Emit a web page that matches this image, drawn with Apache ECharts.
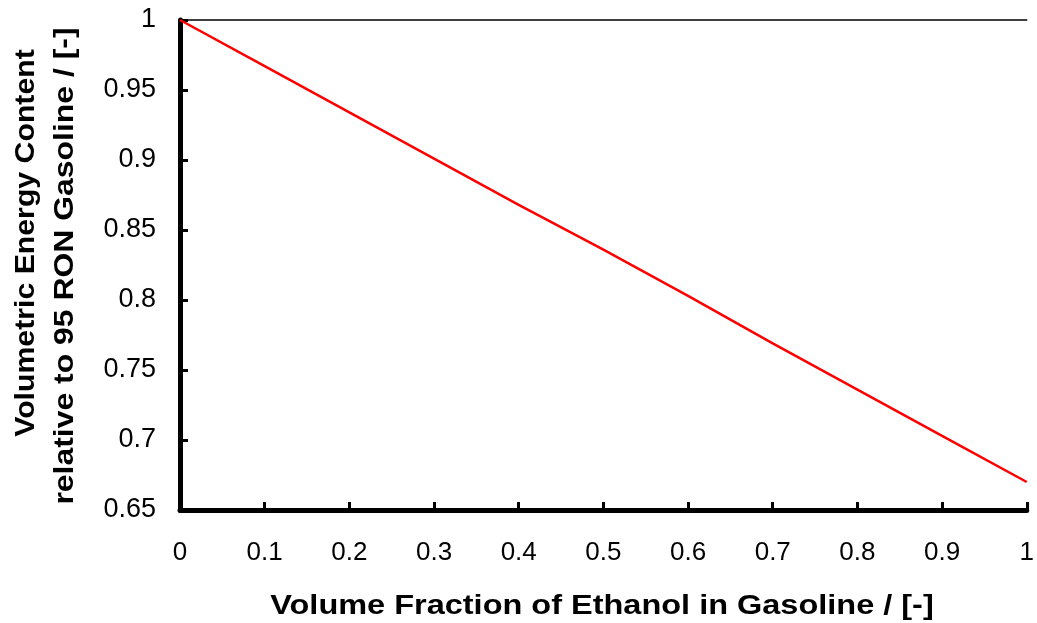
<!DOCTYPE html>
<html>
<head>
<meta charset="utf-8">
<script src="https://cdn.jsdelivr.net/npm/echarts@6/dist/echarts.min.js"></script>
<style>
  html, body { margin: 0; padding: 0; background: #fff; }
  #chart { width: 1037px; height: 623px; }
</style>
</head>
<body>
<div id="chart"></div>
<script>
// Ethanol volume fraction in the blend
const ethanolFraction = [0, 0.1, 0.2, 0.3, 0.4, 0.5, 0.6, 0.7, 0.8, 0.9, 1.0];
// Volumetric energy content relative to 95 RON gasoline
const relativeEnergy = [1.000, 0.967, 0.934, 0.901, 0.868, 0.836, 0.803, 0.769, 0.736, 0.703, 0.670];

const xTitle = 'Volume Fraction of Ethanol in Gasoline / [-]';
const yTitleLines = ['Volumetric Energy Content', 'relative to 95 RON Gasoline / [-]'];

const font = '"Liberation Sans", Arial, sans-serif';
const chart = echarts.init(document.getElementById('chart'), null, { renderer: 'canvas' });

const fmtX = v => (Math.round(v * 10) / 10).toString();
const fmtY = v => (Math.round(v * 100) / 100).toString();

const titleStyle = { fill: '#000', font: 'bold 28px ' + font, align: 'center', verticalAlign: 'middle' };

chart.setOption({
  animation: false,
  grid: { left: 180, right: 8, top: 20, bottom: 113, containLabel: false },
  xAxis: [{
    type: 'value', min: 0, max: 1, interval: 0.1, position: 'bottom',
    axisLine: { show: true, lineStyle: { color: '#000', width: 5 } },
    axisTick: { show: true, inside: true, length: 8, lineStyle: { color: '#000', width: 3 } },
    axisLabel: { color: '#000', fontFamily: font, fontSize: 26, margin: 30, formatter: fmtX },
    splitLine: { show: false }
  }, {
    type: 'value', min: 0, max: 1, position: 'top',
    axisLine: { show: true, lineStyle: { color: '#000', width: 1.5 } },
    axisTick: { show: false }, axisLabel: { show: false }, splitLine: { show: false }
  }],
  yAxis: [{
    type: 'value', min: 0.65, max: 1, interval: 0.05, position: 'left',
    axisLine: { show: true, lineStyle: { color: '#000', width: 5 } },
    axisTick: { show: true, inside: true, length: 8, lineStyle: { color: '#000', width: 3 } },
    axisLabel: { color: '#000', fontFamily: font, fontSize: 27, margin: 24, formatter: fmtY },
    splitLine: { show: false }
  }, {
    type: 'value', min: 0.65, max: 1, position: 'right',
    axisLine: { show: true, lineStyle: { color: '#000', width: 1.5 } },
    axisTick: { show: false }, axisLabel: { show: false }, splitLine: { show: false }
  }],
  graphic: [
    // x-axis title, slightly widened
    { type: 'text', x: 602, y: 606, scaleX: 1.16,
      style: Object.assign({ text: xTitle }, titleStyle) },
    // two-line y-axis title, reading bottom to top
    { type: 'text', x: 26, y: 243, rotation: Math.PI / 2, scaleX: 1.08,
      style: Object.assign({ text: yTitleLines[0] }, titleStyle) },
    { type: 'text', x: 65, y: 266, rotation: Math.PI / 2, scaleX: 1.14,
      style: Object.assign({ text: yTitleLines[1] }, titleStyle) }
  ],
  series: [{
    type: 'line',
    data: ethanolFraction.map((x, i) => [x, relativeEnergy[i]]),
    showSymbol: false,
    lineStyle: { color: '#ff0000', width: 2.5 },
    z: 5
  }]
});
</script>
</body>
</html>
